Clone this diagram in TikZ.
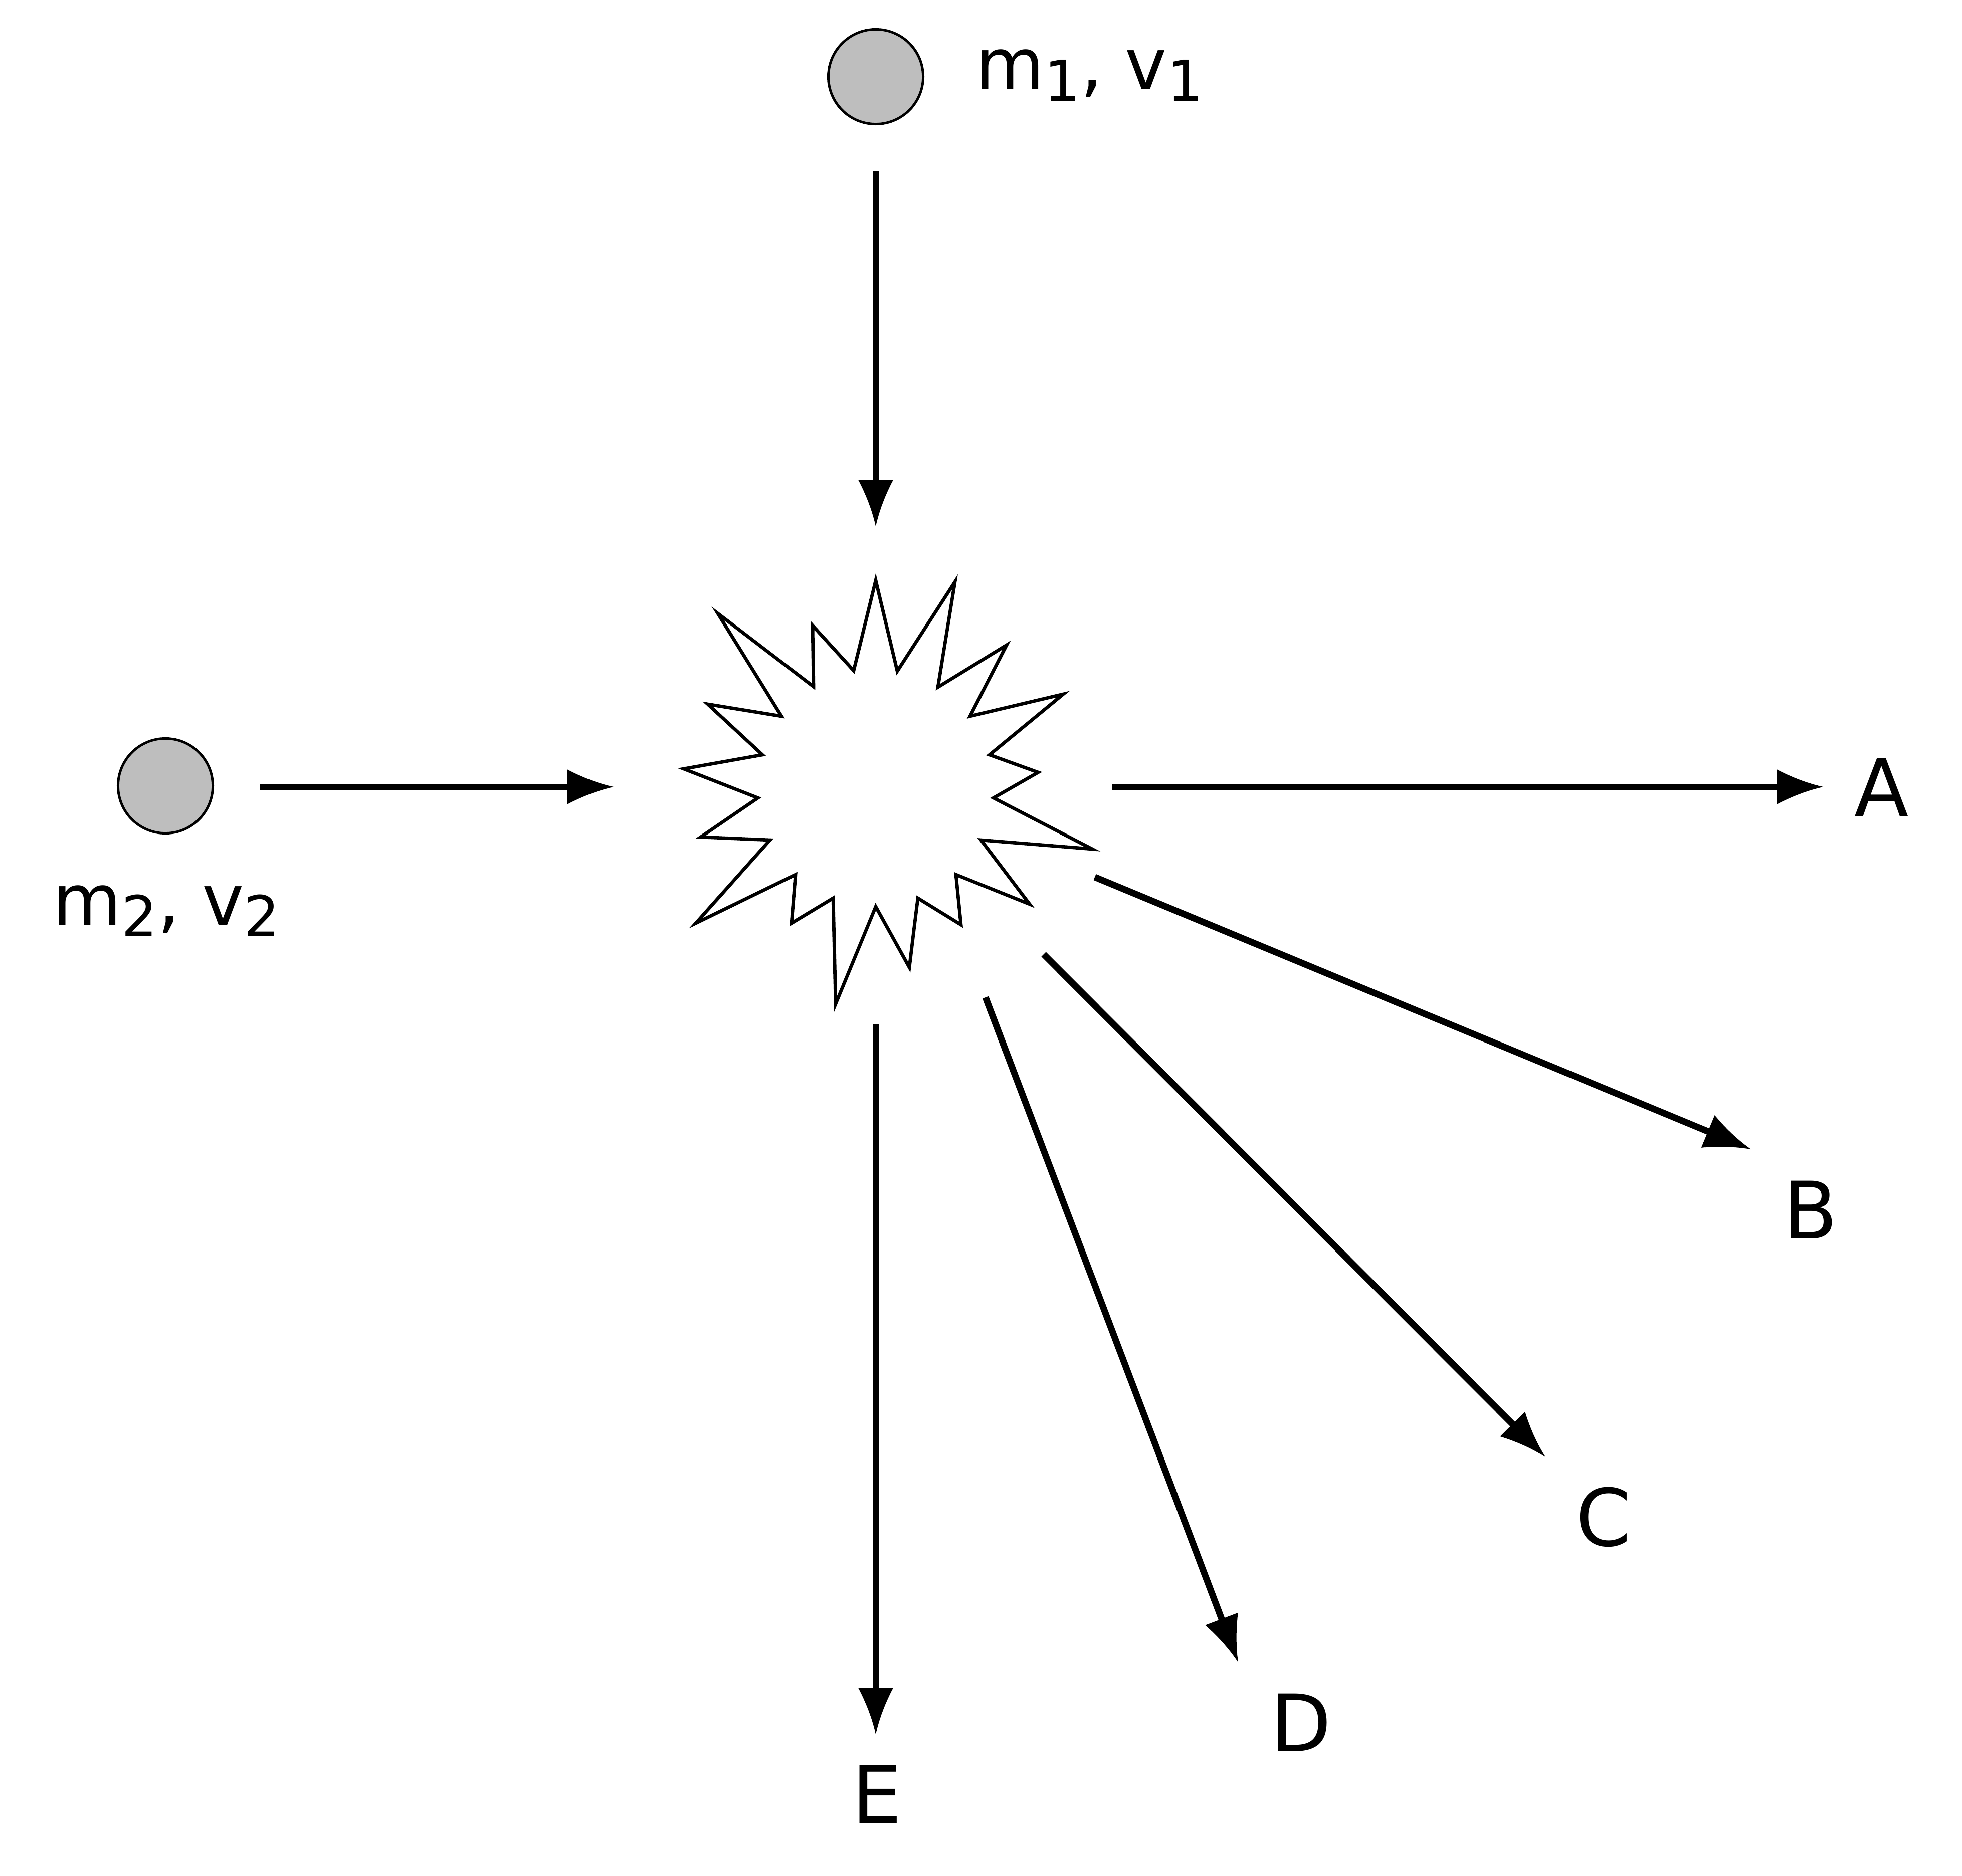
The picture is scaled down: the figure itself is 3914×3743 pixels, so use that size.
\documentclass[tikz,border=0pt]{standalone}
\usepackage{fontspec}
\setmainfont{DejaVu Sans}
\usetikzlibrary{arrows.meta}

\definecolor{ballgray}{RGB}{190,190,190}
\newcommand{\lowdigit}[1]{\raisebox{-0.17em}{\fontsize{32}{38}\selectfont #1}}

% concave arrow tip
\pgfdeclarearrow{
  name = Cusp,
  defaults = {length = 26.4pt, width = 19.9pt},
  parameters = {\the\pgfarrowlength,\the\pgfarrowwidth},
  setup code = {
    \pgfarrowssettipend{0pt}
    \pgfarrowssetlineend{-0.6\pgfarrowlength}
    \pgfarrowssetbackend{-\pgfarrowlength}
    \pgfarrowssetvisualbackend{-\pgfarrowlength}
    \pgfarrowshullpoint{0pt}{0pt}
    \pgfarrowsupperhullpoint{-\pgfarrowlength}{0.5\pgfarrowwidth}
    \pgfarrowssavethe\pgfarrowlength
    \pgfarrowssavethe\pgfarrowwidth
  },
  drawing code = {
    \pgfpathmoveto{\pgfqpoint{0pt}{0pt}}
    \pgfpathquadraticcurveto{\pgfqpoint{-0.5\pgfarrowlength}{0.15\pgfarrowwidth}}{\pgfqpoint{-\pgfarrowlength}{0.5\pgfarrowwidth}}
    \pgfpathlineto{\pgfqpoint{-\pgfarrowlength}{-0.5\pgfarrowwidth}}
    \pgfpathquadraticcurveto{\pgfqpoint{-0.5\pgfarrowlength}{-0.15\pgfarrowwidth}}{\pgfqpoint{0pt}{0pt}}
    \pgfpathclose
    \pgfusepathqfill
  }
}

\tikzset{
  ball/.style={circle, draw, line width=1.4pt, fill=ballgray, minimum size=1.89cm, inner sep=0pt},
  shaft/.style={line width=3.7pt, -{Cusp}},
  burst/.style={line width=1.9pt, line join=miter},
  tag/.style={font=\fontsize{45}{54}\selectfont, inner sep=0pt},
  masslabel/.style={font=\fontsize{40}{48}\selectfont, inner sep=0pt, anchor=base west}
}

\begin{document}
\begin{tikzpicture}[x=0.01cm, y=-0.01cm]
        \useasboundingbox (0,0) rectangle (3914,3743);
        % balls
        \node[ball] (m1) at (1747,153) {};
        \node[ball] (m2) at (330,1568) {};
        \node[masslabel] (m1lab) at (1946,178) {m\lowdigit{1}, v\lowdigit{1}};
        \node[masslabel] (m2lab) at (105,1845) {m\lowdigit{2}, v\lowdigit{2}};
        % burst
        \draw[burst] (1747,1158) -- (1790,1339) -- (1905,1161) -- (1871,1371) -- (2008,1287) -- (1935,1429) -- (2121,1385) -- (1974,1506) -- (2071,1541) -- (1982,1592) -- (2179,1694) -- (1957,1676) -- (2054,1804) -- (1907,1745) -- (1917,1845) -- (1831,1792) -- (1814,1930) -- (1747,1809) -- (1667,2003) -- (1662,1792) -- (1579,1842) -- (1587,1745) -- (1388,1842) -- (1536,1676) -- (1398,1670) -- (1512,1592) -- (1364,1534) -- (1521,1506) -- (1412,1405) -- (1559,1429) -- (1432,1224) -- (1623,1370) -- (1621,1248) -- (1703,1338) -- cycle;
        % end points
        \coordinate (in1) at (1747,342);\coordinate (hit1) at (1747,1050);
        \coordinate (in2) at (519,1570);\coordinate (hit2) at (1224,1570);
        \coordinate (outA) at (2219,1570);\coordinate (tipA) at (3637,1570);
        \coordinate (outB) at (2184,1750);\coordinate (tipB) at (3493,2293);
        \coordinate (outC) at (2082,1904);\coordinate (tipC) at (3083,2907);
        \coordinate (outD) at (1966,1990);\coordinate (tipD) at (2470,3317);
        \coordinate (outE) at (1747,2044);\coordinate (tipE) at (1747,3460);
        % arrows
        \draw[shaft] (in1) -- (hit1);\draw[shaft] (in2) -- (hit2);
        \draw[shaft] (outA) -- (tipA);\draw[shaft] (outB) -- (tipB);\draw[shaft] (outC) -- (tipC);
        \draw[shaft] (outD) -- (tipD);\draw[shaft] (outE) -- (tipE);
        % lecter
        \node[tag] (A) at (3754,1571) {A};
        \node[tag] (B) at (3612,2414) {B};
        \node[tag] (C) at (3199,3027) {C};
        \node[tag] (D) at (2595,3437) {D};
        \node[tag] (E) at (1749,3580) {E};
\end{tikzpicture}
\end{document}
